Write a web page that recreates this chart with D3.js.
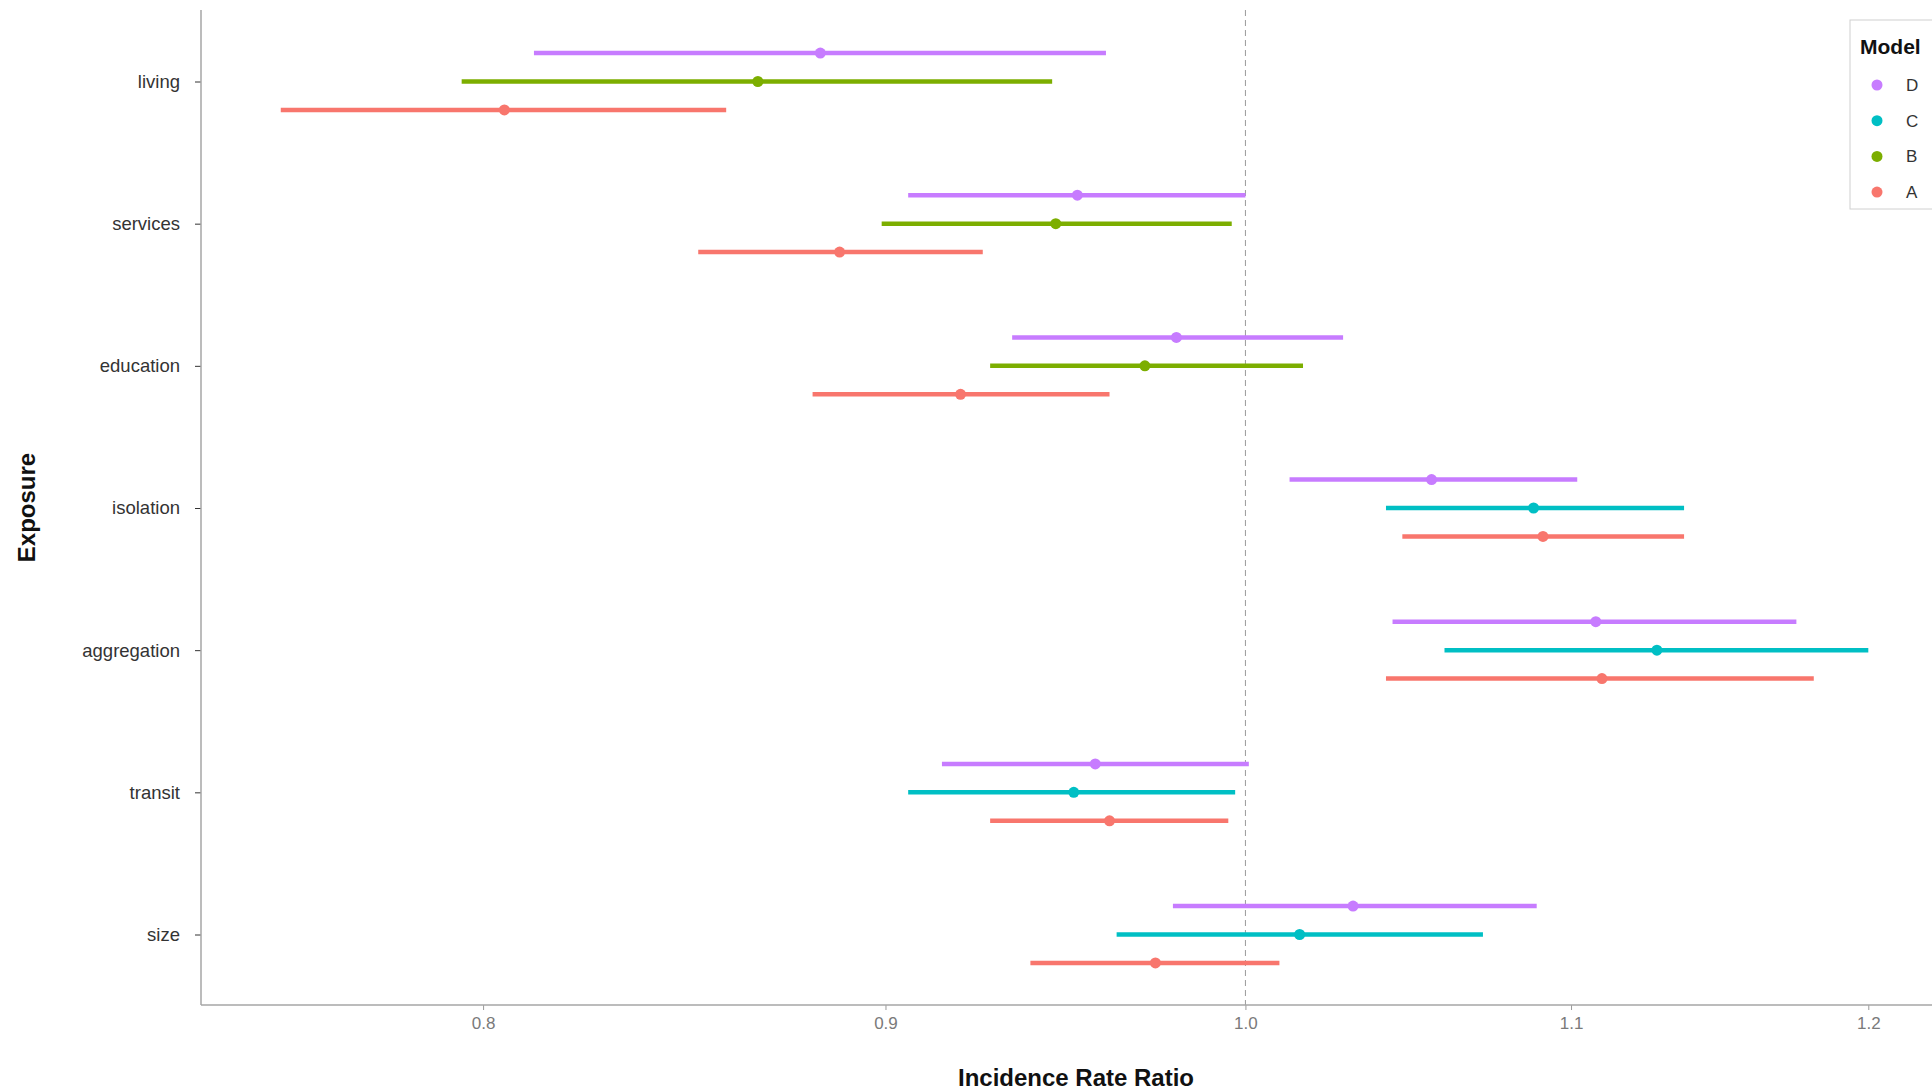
<!DOCTYPE html>
<html>
<head>
<meta charset="utf-8">
<script src="https://cdn.jsdelivr.net/npm/d3@7"></script>
<style>
  body { margin: 0; background: #fff; }
  svg { display: block; font-family: "Liberation Sans", Arial, sans-serif; }
</style>
</head>
<body>
<svg class="svgChart"></svg>
<script>
// categories, top to bottom
var exposures = ['living', 'services', 'education', 'isolation', 'aggregation', 'transit', 'size'];
// legend order (top to bottom)
var models = ['D', 'C', 'B', 'A'];
var modelColors = ['#C77CFF', '#00BFC4', '#7CAE00', '#F8766D'];

// incidence rate ratios + CI, one entry per exposure (null = not in model)
var estA = [0.805, 0.888, 0.920, 1.091, 1.110, 0.961, 0.974];
var lowA = [0.754, 0.852, 0.881, 1.047, 1.042, 0.928, 0.939];
var highA = [0.859, 0.926, 0.961, 1.137, 1.181, 0.995, 1.010];

var estB = [0.867, 0.946, 0.971, null, null, null, null];
var lowB = [0.795, 0.899, 0.928, null, null, null, null];
var highB = [0.945, 0.996, 1.017, null, null, null, null];

var estC = [null, null, null, 1.088, 1.128, 0.951, 1.016];
var lowC = [null, null, null, 1.042, 1.060, 0.906, 0.963];
var highC = [null, null, null, 1.137, 1.200, 0.997, 1.072];

var estD = [0.883, 0.952, 0.980, 1.056, 1.108, 0.957, 1.032];
var lowD = [0.812, 0.906, 0.934, 1.013, 1.044, 0.915, 0.979];
var highD = [0.960, 1.000, 1.029, 1.102, 1.175, 1.001, 1.089];

var xTicks = [0.8, 0.9, 1.0, 1.1, 1.2];

var seriesTable = {
  A: [estA, lowA, highA],
  B: [estB, lowB, highB],
  C: [estC, lowC, highC],
  D: [estD, lowD, highD]
};

// layout (panel runs past the right edge, like the cropped original)
var totalW = 1932, totalH = 1091;
var margin = { top: 10, right: -19, bottom: 86, left: 201 };
var width = totalW - margin.left - margin.right;
var height = totalH - margin.top - margin.bottom;

var svg = d3.select('.svgChart')
  .attr('width', totalW)
  .attr('height', totalH);

var g = svg.append('g')
  .attr('transform', 'translate(' + margin.left + ',' + margin.top + ')');

var xScale = d3.scaleLog()
  .domain([0.7366, 1.2294])
  .range([0, width]);

var yScale = d3.scalePoint()
  .domain(exposures)
  .range([71.5, 924.5]);

var color = d3.scaleOrdinal().domain(models).range(modelColors);

// build rows: dodge the models present at each exposure
var rows = [];
exposures.forEach(function(exp, i) {
  var present = models.filter(function(m) { return seriesTable[m][0][i] !== null; });
  present.forEach(function(m, j) {
    rows.push({
      exposure: exp,
      model: m,
      est: seriesTable[m][0][i],
      low: seriesTable[m][1][i],
      high: seriesTable[m][2][i],
      offset: (j - (present.length - 1) / 2) * yScale.step() * 0.2
    });
  });
});

// reference line at 1
g.append('line')
  .attr('x1', xScale(1)).attr('x2', xScale(1))
  .attr('y1', 0).attr('y2', height)
  .attr('stroke', '#9a9a9a')
  .attr('stroke-width', 1)
  .attr('stroke-dasharray', '6,4');

// axes
var yAxis = d3.axisLeft(yScale).tickSize(6).tickPadding(15);
g.append('g')
    .attr('class', 'yAxis')
    .call(yAxis)
    .call(function(a) { a.select('.domain').remove(); })
    .selectAll('text')
      .attr('fill', '#333')
      .style('font-size', '18.5px');
g.selectAll('.yAxis line').attr('stroke', '#333');

var xAxis = d3.axisBottom(xScale)
  .tickValues(xTicks)
  .tickFormat(d3.format('.1f'))
  .tickSize(5)
  .tickPadding(7);
g.append('g')
    .attr('class', 'xAxis')
    .attr('transform', 'translate(0,' + height + ')')
    .call(xAxis)
    .call(function(a) { a.select('.domain').remove(); })
    .selectAll('text')
      .attr('fill', '#7a7a7a')
      .style('font-size', '17px');
g.selectAll('.xAxis line').attr('stroke', '#999');

// axis lines
g.append('line')
  .attr('x1', 0).attr('x2', 0).attr('y1', 0).attr('y2', height)
  .attr('stroke', '#a6a6a6').attr('stroke-width', 1.5);
g.append('line')
  .attr('x1', 0).attr('x2', width).attr('y1', height).attr('y2', height)
  .attr('stroke', '#a6a6a6').attr('stroke-width', 1.5);

// point ranges
var pr = g.append('g').attr('class', 'chart')
  .selectAll('g')
  .data(rows)
  .enter()
  .append('g');

pr.append('line')
  .attr('x1', d => xScale(d.low))
  .attr('x2', d => xScale(d.high))
  .attr('y1', d => yScale(d.exposure) + d.offset)
  .attr('y2', d => yScale(d.exposure) + d.offset)
  .attr('stroke', d => color(d.model))
  .attr('stroke-width', 4.5);

pr.append('circle')
  .attr('cx', d => xScale(d.est))
  .attr('cy', d => yScale(d.exposure) + d.offset)
  .attr('r', 5.5)
  .attr('fill', d => color(d.model));

// axis titles
svg.append('text')
  .attr('x', margin.left + width / 2)
  .attr('y', 1086)
  .attr('text-anchor', 'middle')
  .style('font-size', '24px')
  .style('font-weight', 'bold')
  .attr('fill', '#111')
  .text('Incidence Rate Ratio');

svg.append('text')
  .attr('transform', 'translate(35,' + (margin.top + height / 2) + ') rotate(-90)')
  .attr('text-anchor', 'middle')
  .style('font-size', '24px')
  .style('font-weight', 'bold')
  .attr('fill', '#111')
  .text('Exposure');

// legend
var legend = svg.append('g')
  .attr('class', 'legend')
  .attr('transform', 'translate(1850,20)');

legend.append('rect')
  .attr('x', 0).attr('y', 0)
  .attr('width', 120).attr('height', 189)
  .attr('fill', '#fff')
  .attr('stroke', '#d0d0d0')
  .attr('stroke-width', 1);

legend.append('text')
  .attr('x', 10).attr('y', 34)
  .style('font-size', '21px')
  .style('font-weight', 'bold')
  .attr('fill', '#111')
  .text('Model');

var keys = legend.selectAll('.key')
  .data(models)
  .enter()
  .append('g')
  .attr('transform', (d, i) => 'translate(0,' + (65 + i * 35.7) + ')');

keys.append('circle')
  .attr('cx', 27).attr('cy', 0).attr('r', 5.5)
  .attr('fill', d => color(d));

keys.append('text')
  .attr('x', 56).attr('y', 0).attr('dy', '0.35em')
  .style('font-size', '17px')
  .attr('fill', '#333')
  .text(d => d);
</script>
</body>
</html>
